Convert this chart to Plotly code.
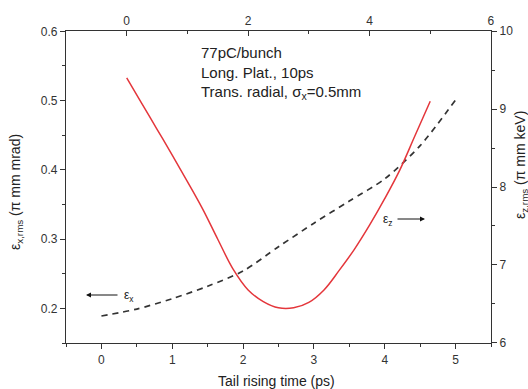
import plotly.graph_objects as go

# ---- data ----
# transverse emittance (dashed, left axis, bottom x-axis)
ex_t = [0.0, 0.5, 1.0, 1.5, 2.0, 2.5, 3.0, 3.5, 4.0, 4.5, 5.0]
ex_val = [0.189, 0.199, 0.214, 0.232, 0.254, 0.289, 0.323, 0.355, 0.387, 0.435, 0.501]

# longitudinal emittance (red, right axis, top x-axis)
ez_t = [0.0, 0.25, 0.5, 0.75, 1.0, 1.25, 1.5, 1.75, 2.0, 2.25, 2.5, 2.75, 3.0, 3.25,
        3.5, 3.75, 4.0, 4.25, 4.5, 4.75, 5.0]
ez_val = [9.40, 9.07, 8.74, 8.41, 8.07, 7.72, 7.33, 6.95, 6.68, 6.53, 6.45, 6.45, 6.52,
          6.68, 6.93, 7.20, 7.51, 7.85, 8.22, 8.66, 9.10]

info_lines = ["77pC/bunch", "Long. Plat., 10ps", "Trans. radial, σ<sub>x</sub>=0.5mm"]

W, H = 528, 389
L, R, T, B = 66, 37, 31, 46
PW, PH = W - L - R, H - T - B
FONT = "Arial, Liberation Sans, sans-serif"
AX = "#333333"
TXT = "#222222"


def px(x):
    return (x - L) / PW


def py(y):
    return (H - B - y) / PH


fig = go.Figure()
fig.add_trace(go.Scatter(x=ex_t, y=ex_val, mode="lines", xaxis="x", yaxis="y",
                         line=dict(color="#333333", width=1.7, dash="6px,5px", shape="spline",
                                   smoothing=0.8),
                         showlegend=False))
fig.add_trace(go.Scatter(x=ez_t, y=ez_val, mode="lines", xaxis="x2", yaxis="y2",
                         line=dict(color="#e4363b", width=1.5, shape="spline", smoothing=1.0),
                         showlegend=False))

common = dict(showgrid=False, zeroline=False, showline=True, linecolor=AX, linewidth=1.3,
              tickcolor=AX, tickwidth=1.2, ticklen=5,
              tickfont=dict(family=FONT, size=12, color="#333333"))

fig.update_layout(
    width=W, height=H,
    margin=dict(l=L, r=R, t=T, b=B, pad=0),
    paper_bgcolor="white", plot_bgcolor="white",
    font=dict(family=FONT, color=TXT),
    xaxis=dict(range=[-0.5, 5.5], tick0=0, dtick=1, ticks="outside", side="bottom",
               minor=dict(dtick=0.5, tick0=0, ticks="outside", ticklen=3, tickcolor=AX),
               **common),
    xaxis2=dict(range=[-1, 6.001], tick0=0, dtick=2, ticks="inside", side="top",
                overlaying="x", anchor="y",
                minor=dict(dtick=1, tick0=0, ticks="inside", ticklen=3, tickcolor=AX),
                **common),
    yaxis=dict(range=[0.15, 0.6005], tick0=0, dtick=0.1, ticks="outside", side="left",
               minor=dict(dtick=0.05, tick0=0, ticks="outside", ticklen=3, tickcolor=AX),
               **common),
    yaxis2=dict(range=[5.999, 10.001], tick0=0, dtick=1, ticks="outside", side="right",
                overlaying="y", anchor="x",
                minor=dict(dtick=0.5, tick0=0, ticks="outside", ticklen=3, tickcolor=AX),
                **common),
)

ann = []
for line, yy in zip(info_lines, [53, 73, 92]):
    ann.append(dict(text=line, xref="paper", yref="paper", x=px(199), y=py(yy),
                    xanchor="left", yanchor="middle", showarrow=False,
                    font=dict(family=FONT, size=15, color=TXT)))

ann.append(dict(text="Tail rising time (ps)", xref="paper", yref="paper",
                x=px(276), y=py(381), xanchor="center", yanchor="middle", showarrow=False,
                font=dict(family=FONT, size=14, color=TXT)))
ann.append(dict(text="ε<sub>x,rms</sub> (π mm mrad)", xref="paper", yref="paper",
                x=px(16), y=py(192), xanchor="center", yanchor="middle", showarrow=False,
                textangle=-90, font=dict(family=FONT, size=14, color=TXT)))
ann.append(dict(text="ε<sub>z,rms</sub> (π mm keV)", xref="paper", yref="paper",
                x=px(521), y=py(165), xanchor="center", yanchor="middle", showarrow=False,
                textangle=-90, font=dict(family=FONT, size=14, color=TXT)))

ann.append(dict(text="", xref="paper", yref="paper", x=px(86), y=py(295),
                ax=33, ay=0, showarrow=True, arrowhead=2, arrowsize=1, arrowwidth=1,
                arrowcolor="#111111"))
ann.append(dict(text="ε<sub>x</sub>", xref="paper", yref="paper", x=px(122), y=py(296),
                xanchor="left", yanchor="middle", showarrow=False,
                font=dict(family=FONT, size=12, color=TXT)))
ann.append(dict(text="", xref="paper", yref="paper", x=px(425), y=py(219),
                ax=-29, ay=0, showarrow=True, arrowhead=2, arrowsize=1, arrowwidth=1,
                arrowcolor="#111111"))
ann.append(dict(text="ε<sub>z</sub>", xref="paper", yref="paper", x=px(395), y=py(220),
                xanchor="right", yanchor="middle", showarrow=False,
                font=dict(family=FONT, size=12, color=TXT)))

fig.update_layout(annotations=ann)
fig.write_html("out.html", config={"displayModeBar": False},
               post_script="document.body.style.margin='0';document.body.style.padding='0';")
